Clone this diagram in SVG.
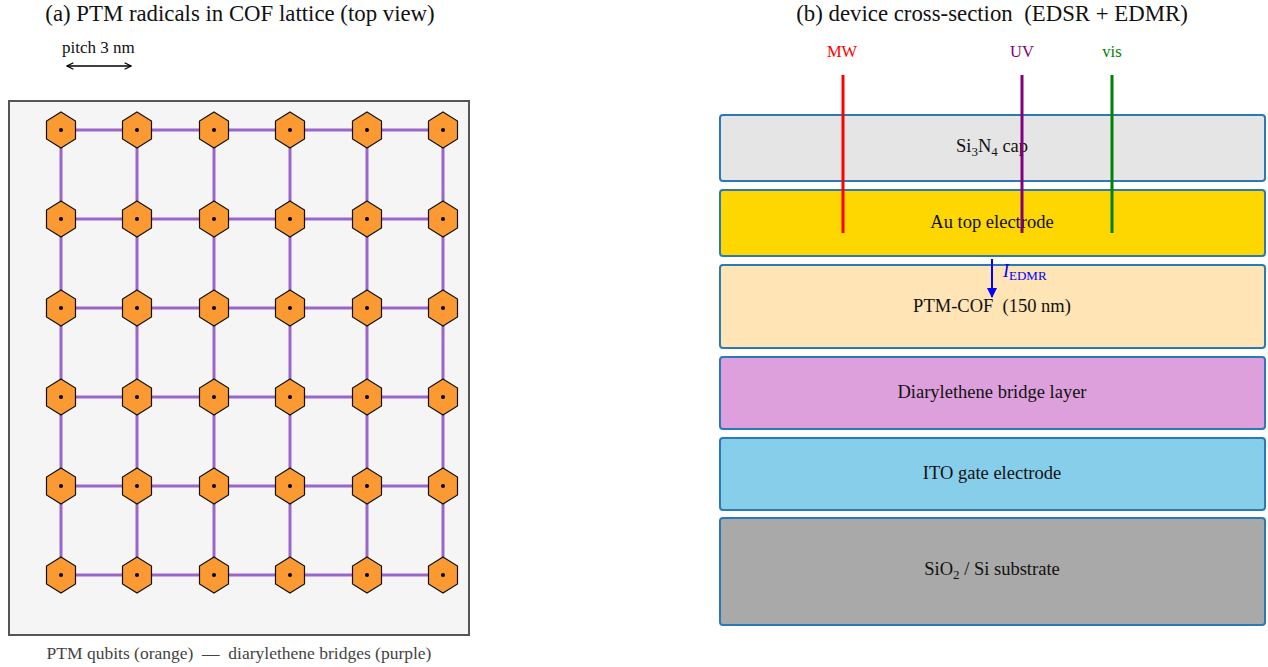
<svg xmlns="http://www.w3.org/2000/svg" width="1268" height="667" viewBox="0 0 1268 667">
<style>
text{font-family:"Liberation Serif","Times New Roman",serif;fill:#111;white-space:pre}
.title{font-size:22.8px;text-anchor:middle}
.lbl{font-size:18.5px;text-anchor:middle}
.small{font-size:16.5px}
.hex{fill:#fb9a33;stroke:#111;stroke-width:1.2}
.dot{fill:#000}
.bond{stroke:#9b66cc;stroke-width:3;fill:none}
.layer{stroke:#2a7ab8;stroke-width:2}
</style>
<defs>
<polygon id="hx" class="hex" points="0,-18 14.5,-9 14.5,9 0,18 -14.5,9 -14.5,-9"/>
<marker id="ah" viewBox="0 0 10 10" refX="9" refY="5" markerWidth="8" markerHeight="8" orient="auto-start-reverse" markerUnits="userSpaceOnUse"><path d="M1,1 L9,5 L1,9" fill="none" stroke="#000" stroke-width="1.5"/></marker>
<marker id="bh" viewBox="0 0 10 10" refX="9" refY="5" markerWidth="10" markerHeight="10" orient="auto" markerUnits="userSpaceOnUse"><path d="M0,0 L10,5 L0,10 z" fill="#0000ff"/></marker>
</defs>
<rect width="1268" height="667" fill="#fff"/>

<!-- Panel (a) -->
<text class="title" x="240" y="21">(a) PTM radicals in COF lattice (top view)</text>
<text x="62" y="53" font-size="17">pitch 3 nm</text>
<line x1="67" y1="66" x2="131" y2="66" stroke="#000" stroke-width="1.5" marker-start="url(#ah)" marker-end="url(#ah)"/>
<rect x="9" y="101" width="460" height="534" fill="#f5f5f5" stroke="#555" stroke-width="2"/>

<g id="bonds">
<path class="bond" d="M61,130H443M61,219H443M61,308H443M61,397H443M61,486H443M61,575H443M61,130V575M137,130V575M214,130V575M290,130V575M367,130V575M443,130V575"/>
</g>
<g id="qubits">
<g id="q-r1"><use href="#hx" x="61" y="130"/><use href="#hx" x="137" y="130"/><use href="#hx" x="214" y="130"/><use href="#hx" x="290" y="130"/><use href="#hx" x="367" y="130"/><use href="#hx" x="443" y="130"/></g>
<g id="q-r2"><use href="#hx" x="61" y="219"/><use href="#hx" x="137" y="219"/><use href="#hx" x="214" y="219"/><use href="#hx" x="290" y="219"/><use href="#hx" x="367" y="219"/><use href="#hx" x="443" y="219"/></g>
<g id="q-r3"><use href="#hx" x="61" y="308"/><use href="#hx" x="137" y="308"/><use href="#hx" x="214" y="308"/><use href="#hx" x="290" y="308"/><use href="#hx" x="367" y="308"/><use href="#hx" x="443" y="308"/></g>
<g id="q-r4"><use href="#hx" x="61" y="397"/><use href="#hx" x="137" y="397"/><use href="#hx" x="214" y="397"/><use href="#hx" x="290" y="397"/><use href="#hx" x="367" y="397"/><use href="#hx" x="443" y="397"/></g>
<g id="q-r5"><use href="#hx" x="61" y="486"/><use href="#hx" x="137" y="486"/><use href="#hx" x="214" y="486"/><use href="#hx" x="290" y="486"/><use href="#hx" x="367" y="486"/><use href="#hx" x="443" y="486"/></g>
<g id="q-r6"><use href="#hx" x="61" y="575"/><use href="#hx" x="137" y="575"/><use href="#hx" x="214" y="575"/><use href="#hx" x="290" y="575"/><use href="#hx" x="367" y="575"/><use href="#hx" x="443" y="575"/></g>
<g id="dots" class="dot">
<circle cx="61" cy="130" r="2"/><circle cx="137" cy="130" r="2"/><circle cx="214" cy="130" r="2"/><circle cx="290" cy="130" r="2"/><circle cx="367" cy="130" r="2"/><circle cx="443" cy="130" r="2"/>
<circle cx="61" cy="219" r="2"/><circle cx="137" cy="219" r="2"/><circle cx="214" cy="219" r="2"/><circle cx="290" cy="219" r="2"/><circle cx="367" cy="219" r="2"/><circle cx="443" cy="219" r="2"/>
<circle cx="61" cy="308" r="2"/><circle cx="137" cy="308" r="2"/><circle cx="214" cy="308" r="2"/><circle cx="290" cy="308" r="2"/><circle cx="367" cy="308" r="2"/><circle cx="443" cy="308" r="2"/>
<circle cx="61" cy="397" r="2"/><circle cx="137" cy="397" r="2"/><circle cx="214" cy="397" r="2"/><circle cx="290" cy="397" r="2"/><circle cx="367" cy="397" r="2"/><circle cx="443" cy="397" r="2"/>
<circle cx="61" cy="486" r="2"/><circle cx="137" cy="486" r="2"/><circle cx="214" cy="486" r="2"/><circle cx="290" cy="486" r="2"/><circle cx="367" cy="486" r="2"/><circle cx="443" cy="486" r="2"/>
<circle cx="61" cy="575" r="2"/><circle cx="137" cy="575" r="2"/><circle cx="214" cy="575" r="2"/><circle cx="290" cy="575" r="2"/><circle cx="367" cy="575" r="2"/><circle cx="443" cy="575" r="2"/>
</g>
</g>
<text x="239" y="659" font-size="17.5" text-anchor="middle" style="fill:#444">PTM qubits (orange)  —  diarylethene bridges (purple)</text>

<!-- Panel (b) -->
<text class="title" x="992" y="21">(b) device cross-section  (EDSR + EDMR)</text>
<g id="layer-si3n4"><rect class="layer" x="720" y="115" width="545" height="66" rx="3" fill="#e5e5e5"/><text class="lbl" x="992" y="152">Si<tspan font-size="13" dy="4">3</tspan><tspan dy="-4">N</tspan><tspan font-size="13" dy="4">4</tspan><tspan dy="-4"> cap</tspan></text></g>
<g id="layer-au"><rect class="layer" x="720" y="190" width="545" height="66" rx="3" fill="#ffd700"/><text class="lbl" x="992" y="228">Au top electrode</text></g>
<g id="layer-ptm"><rect class="layer" x="720" y="265" width="545" height="83" rx="3" fill="#ffe4b5"/><text class="lbl" x="992" y="312">PTM-COF  (150 nm)</text></g>
<g id="layer-dae"><rect class="layer" x="720" y="357" width="545" height="72" rx="3" fill="#dda0dd"/><text class="lbl" x="992" y="398">Diarylethene bridge layer</text></g>
<g id="layer-ito"><rect class="layer" x="720" y="438" width="545" height="72" rx="3" fill="#87ceeb"/><text class="lbl" x="992" y="479">ITO gate electrode</text></g>
<g id="layer-sub"><rect class="layer" x="720" y="518" width="545" height="107" rx="3" fill="#a9a9a9"/><text class="lbl" x="992" y="575">SiO<tspan font-size="13" dy="4">2</tspan><tspan dy="-4"> / Si substrate</tspan></text></g>

<g id="connectors">
<line x1="843" y1="75" x2="843" y2="233" stroke="#ff0000" stroke-width="3"/>
<line x1="1022" y1="75" x2="1022" y2="233" stroke="#800080" stroke-width="3"/>
<line x1="1112" y1="75" x2="1112" y2="233" stroke="#008000" stroke-width="3"/>
<line x1="992" y1="259" x2="992" y2="297" stroke="#0000ff" stroke-width="2" marker-end="url(#bh)"/>
</g>
<text class="small" x="842" y="57" text-anchor="middle" style="fill:#ff0000">MW</text>
<text class="small" x="1022" y="57" text-anchor="middle" style="fill:#800080">UV</text>
<text class="small" x="1112" y="57" text-anchor="middle" style="fill:#008000">vis</text>
<text x="1003" y="277" font-size="18" style="fill:#0000ff"><tspan font-style="italic">I</tspan><tspan font-size="13" dy="3">EDMR</tspan></text>
</svg>
